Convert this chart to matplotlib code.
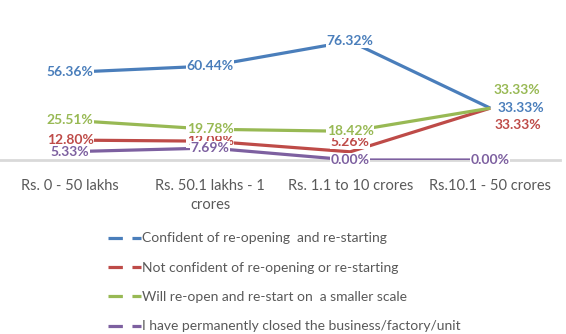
import matplotlib.pyplot as plt
from matplotlib.lines import Line2D

plt.rcParams['font.family'] = ['Lato', 'DejaVu Sans']

categories = ["Rs. 0 - 50 lakhs", "Rs. 50.1 lakhs - 1\ncrores",
              "Rs. 1.1 to 10 crores", "Rs.10.1 - 50 crores"]
confident = [56.36, 60.44, 76.32, 33.33]
not_confident = [12.80, 12.09, 5.26, 33.33]
smaller_scale = [25.51, 19.78, 18.42, 33.33]
closed = [5.33, 7.69, 0.00, 0.00]

names = ["Confident of re-opening  and re-starting",
         "Not confident of re-opening or re-starting",
         "Will re-open and re-start on  a smaller scale",
         "I have permanently closed the business/factory/unit"]
colors = ["#4a7ebb", "#be4b48", "#98b954", "#7d60a0"]
series = [confident, not_confident, smaller_scale, closed]

# label offsets in points (dx, dy), most labels sit on the point
offsets = [
    [(0, 0), (0, 0), (0, 0), (22, 0)],
    [(0, 0), (0, 0), (0, 7), (20, -12)],
    [(0, 0), (0, 0), (0, 0), (19, 13)],
    [(0, 0), (0, 0), (0, 0), (0, 0)],
]

fig = plt.figure(figsize=(5.66, 3.34), dpi=100)
ax = fig.add_axes([0.0, 0.521, 0.99, 0.419])
x = range(len(categories))

for i, (vals, c) in enumerate(zip(series, colors)):
    ax.plot(x, vals, color=c, lw=2.3, solid_capstyle='butt', zorder=2)
    for j, v in enumerate(vals):
        dx, dy = offsets[i][j]
        ax.annotate(f"{v:.2f}%", (j, v), xytext=(dx, dy), textcoords='offset points',
                    ha='center', va='center', fontsize=10, fontweight='bold', color=c,
                    bbox=dict(boxstyle='square,pad=0.05', fc='white', ec='none'),
                    zorder=3 + i)

ax.set_xlim(-0.5, 3.5)
ax.set_ylim(0, 90)
for s in ['top', 'right', 'left']:
    ax.spines[s].set_visible(False)
ax.spines['bottom'].set_color('#d9d9d9')
ax.spines['bottom'].set_linewidth(2)
ax.spines['bottom'].set_zorder(1)
ax.set_yticks([])
ax.set_xticks(list(x))
ax.set_xticklabels(categories, fontsize=10.5, color='#595959', linespacing=1.45)
ax.tick_params(axis='x', length=0, pad=14)

handles = [Line2D([0], [0], color=c, lw=2.3, linestyle=(0, (4.5, 3))) for c in colors]
fig.legend(handles, names, loc='upper left', bbox_to_anchor=(0.178, 0.325),
           frameon=False, fontsize=10, labelcolor='#595959', handlelength=2.4,
           handletextpad=0.1, labelspacing=1.25, borderpad=0)

fig.savefig("out.png", dpi=100)
